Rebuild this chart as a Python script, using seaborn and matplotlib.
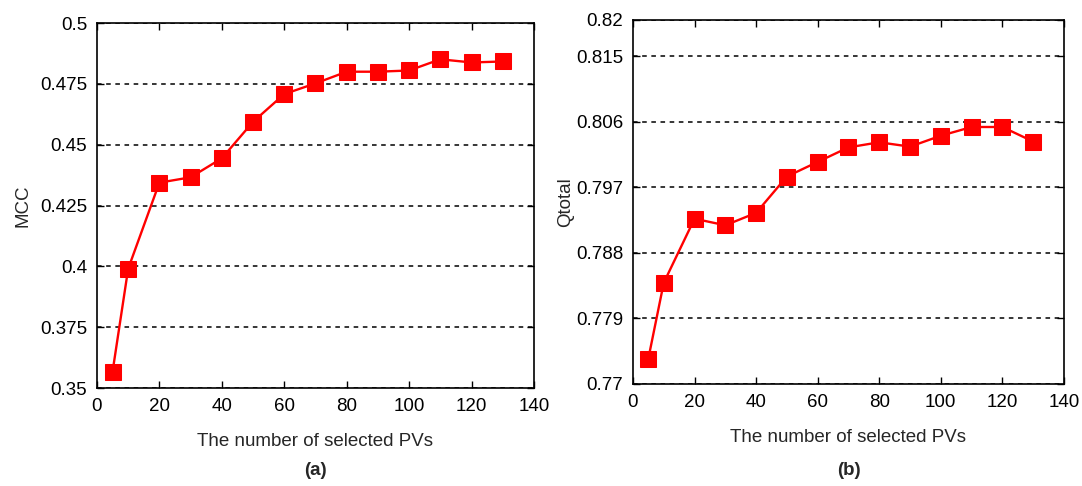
import numpy as np
import pandas as pd
import matplotlib
matplotlib.use("Agg")
import matplotlib.pyplot as plt
import seaborn as sns

# Data
pvs = [5, 10, 20, 30, 40, 50, 60, 70, 80, 90, 100, 110, 120, 130]
mcc = [0.3567, 0.3990, 0.4344, 0.4366, 0.4444, 0.4594, 0.4708, 0.4752,
       0.4800, 0.4800, 0.4805, 0.4851, 0.4838, 0.4842]
qtotal = [0.7735, 0.7839, 0.7927, 0.7918, 0.7935, 0.7985, 0.8005, 0.8025,
          0.8032, 0.8026, 0.8041, 0.8053, 0.8053, 0.8033]

mcc_ticks = [0.35, 0.375, 0.4, 0.425, 0.45, 0.475, 0.5]
mcc_ticklabels = ["0.35", "0.375", "0.4", "0.425", "0.45", "0.475", "0.5"]
q_ticks = [0.77, 0.779, 0.788, 0.797, 0.806, 0.815, 0.82]
q_ticklabels = ["0.77", "0.779", "0.788", "0.797", "0.806", "0.815", "0.82"]
x_ticks = [0, 20, 40, 60, 80, 100, 120, 140]

sns.set_style("white")
plt.rcParams['font.family'] = ['Liberation Sans', 'DejaVu Sans']

df = pd.DataFrame({"pvs": pvs, "MCC": mcc, "Qtotal": qtotal})

fig = plt.figure(figsize=(10.82, 4.86), dpi=100)
ax1 = fig.add_axes([0.0896, 0.2016, 0.4039, 0.751])
ax2 = fig.add_axes([0.585, 0.2099, 0.3983, 0.749])

def style(ax, col, ticks, ticklabels, ylim, ylabel, panel, ylpad):
    sns.lineplot(data=df, x="pvs", y=col, ax=ax, color="#ff0000", marker="s",
                 markersize=11, markeredgecolor="#ff0000", linewidth=1.7)
    ax.set_xlim(0, 140)
    ax.set_ylim(*ylim)
    ax.set_xticks(x_ticks)
    ax.set_xticklabels([str(t) for t in x_ticks], fontsize=13.5)
    ax.set_yticks(ticks)
    ax.set_yticklabels(ticklabels, fontsize=13.5)
    ax.tick_params(direction="in", length=5, width=1, top=True, right=True,
                   bottom=True, left=True, colors="black", pad=7)
    ax.yaxis.grid(True, linestyle=(0, (3, 3)), color="black", linewidth=1.1)
    ax.xaxis.grid(False)
    for s in ax.spines.values():
        s.set_color("black")
        s.set_linewidth(1.2)
    ax.set_xlabel("The number of selected PVs", fontsize=13.5, labelpad=13)
    ax.set_ylabel(ylabel, fontsize=13.5, labelpad=ylpad)
    bb = ax.get_position()
    fig.text((bb.x0 + bb.x1) / 2, 1 - 470 / 486, panel, ha="center", va="center",
             fontsize=13.5, fontweight="bold")

style(ax1, "MCC", mcc_ticks, mcc_ticklabels, (0.35, 0.5), "MCC", "(a)", 6)
style(ax2, "Qtotal", q_ticks, q_ticklabels, (0.77, 0.82), "Qtotal", "(b)", 1)

fig.savefig("out.png", dpi=100)
